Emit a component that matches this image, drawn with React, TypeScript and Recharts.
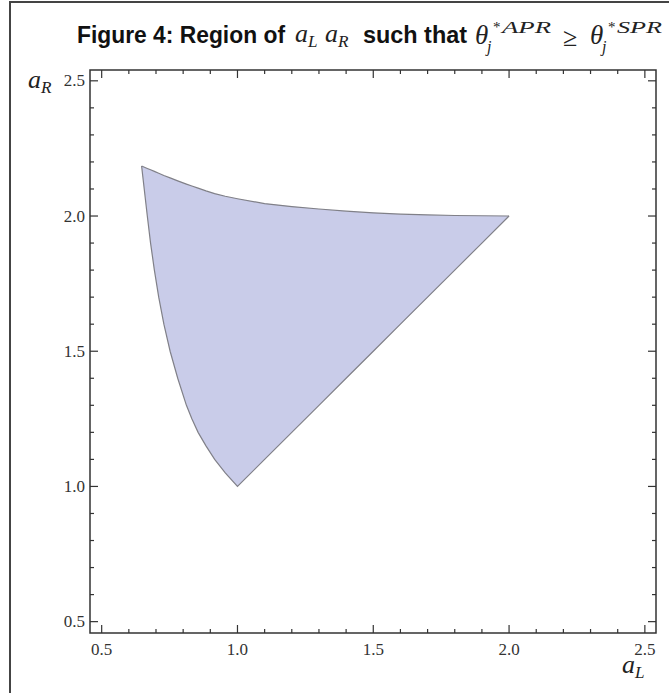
import React from 'react';
import { ComposedChart, Area, XAxis, YAxis, ReferenceArea } from 'recharts';

// region boundary, sampled along a_L
const aL = [0.647, 0.668, 0.68, 0.694, 0.71, 0.729, 0.752, 0.78, 0.812, 0.832, 0.855, 0.884, 0.916, 0.955, 1.0, 1.1, 1.2, 1.3, 1.4, 1.5, 1.6, 1.7, 1.8, 1.9, 2.0];
const aRUpper = [2.185, 2.176, 2.171, 2.165, 2.158, 2.15, 2.141, 2.13, 2.118, 2.111, 2.103, 2.093, 2.083, 2.073, 2.064, 2.046, 2.035, 2.026, 2.018, 2.012, 2.007, 2.004, 2.002, 2.001, 2.0];
const aRLower = [2.185, 2.0, 1.9, 1.8, 1.7, 1.6, 1.5, 1.4, 1.3, 1.25, 1.2, 1.15, 1.1, 1.05, 1.0, 1.1, 1.2, 1.3, 1.4, 1.5, 1.6, 1.7, 1.8, 1.9, 2.0];

const xTicks = [0.5, 0.6, 0.7, 0.8, 0.9, 1.0, 1.1, 1.2, 1.3, 1.4, 1.5, 1.6, 1.7, 1.8, 1.9, 2.0, 2.1, 2.2, 2.3, 2.4, 2.5];
const yTicks = [0.5, 0.6, 0.7, 0.8, 0.9, 1.0, 1.1, 1.2, 1.3, 1.4, 1.5, 1.6, 1.7, 1.8, 1.9, 2.0, 2.1, 2.2, 2.3, 2.4, 2.5];
const xDomain = [0.457, 2.541];
const yDomain = [0.458, 2.54];

const data = aL.map((x, i) => ({ x, range: [aRLower[i], aRUpper[i]] }));

const W = 669;
const H = 693;
const yAxisW = 40;
const xAxisH = 30;
// plot box: x 90..656, y 70..633
const margin = { top: 70, right: 13, bottom: 30, left: 50 };
const plotW = W - margin.left - margin.right - yAxisW;
const plotH = H - margin.top - margin.bottom - xAxisH;

const ink = '#333';
const serif = "'Liberation Serif', 'Times New Roman', serif";
const sans = "'Liberation Sans', Arial, sans-serif";

const isMajor = (v: number) => Math.abs(v * 2 - Math.round(v * 2)) < 1e-6;

function XTick(props: any) {
    const { x, y, payload } = props;
    const v = payload.value as number;
    const len = isMajor(v) ? 8 : 4;
    return (
        <g>
            <line x1={x} y1={y} x2={x} y2={y - len} stroke={ink} strokeWidth={1.2} />
            <line x1={x} y1={y - plotH} x2={x} y2={y - plotH + len} stroke={ink} strokeWidth={1.2} />
            {isMajor(v) && (
                <text x={x} y={y + 22} textAnchor="middle" fontFamily={serif} fontSize={17} fill={ink}>
                    {v.toFixed(1)}
                </text>
            )}
        </g>
    );
}

function YTick(props: any) {
    const { x, y, payload } = props;
    const v = payload.value as number;
    const len = isMajor(v) ? 8 : 4;
    return (
        <g>
            <line x1={x} y1={y} x2={x + len} y2={y} stroke={ink} strokeWidth={1.2} />
            <line x1={x + plotW} y1={y} x2={x + plotW - len} y2={y} stroke={ink} strokeWidth={1.2} />
            {isMajor(v) && (
                <text x={x - 5} y={y + 5.5} textAnchor="end" fontFamily={serif} fontSize={17} fill={ink}>
                    {v.toFixed(1)}
                </text>
            )}
        </g>
    );
}

function Var({ x, y, name, idx, size = 26 }: { x: number; y: number; name: string; idx: string; size?: number }) {
    return (
        <text x={x} y={y} fontFamily={serif} fontStyle="italic" fill="#222">
            <tspan fontSize={size}>{name}</tspan>
            <tspan fontSize={size * 0.66} dy={5}>{idx}</tspan>
        </text>
    );
}

function Theta({ x, sup, supW }: { x: number; sup: string; supW: number }) {
    return (
        <g fill="#222" fontFamily={serif} fontStyle="italic">
            <text x={x} y={44} fontSize={27}>θ</text>
            <text x={x + 12} y={52} fontSize={16}>j</text>
            <text x={x + 18} y={32} fontSize={15} fontStyle="normal">*</text>
            <text x={x + 27} y={33} fontSize={17} textLength={supW} lengthAdjust="spacingAndGlyphs">
                {sup}
            </text>
        </g>
    );
}

export default function App() {
    return (
        <div style={{ position: 'absolute', left: 0, top: 0, width: W, height: H, background: '#fff', overflow: 'hidden' }}>
            {/* frame of the figure */}
            <div style={{ position: 'absolute', left: 9, top: 1, width: W, height: H, borderLeft: '2px solid #444', borderTop: '2px solid #444' }} />

            <ComposedChart width={W} height={H} data={data} margin={margin} style={{ position: 'absolute', left: 0, top: 0 }}>
                <XAxis
                    dataKey="x"
                    type="number"
                    domain={xDomain}
                    allowDataOverflow
                    ticks={xTicks}
                    interval={0}
                    height={xAxisH}
                    tickSize={0}
                    tickMargin={0}
                    axisLine={false}
                    tickLine={false}
                    tick={(p: any) => <XTick {...p} />}
                />
                <YAxis
                    type="number"
                    domain={yDomain}
                    allowDataOverflow
                    ticks={yTicks}
                    interval={0}
                    width={yAxisW}
                    tickSize={0}
                    tickMargin={0}
                    axisLine={false}
                    tickLine={false}
                    tick={(p: any) => <YTick {...p} />}
                />
                <Area
                    dataKey="range"
                    type="linear"
                    fill="#c9cce9"
                    fillOpacity={1}
                    stroke="#808088"
                    strokeWidth={1.2}
                    dot={false}
                    activeDot={false}
                    isAnimationActive={false}
                />
                <ReferenceArea
                    x1={xDomain[0]}
                    x2={xDomain[1]}
                    y1={yDomain[0]}
                    y2={yDomain[1]}
                    fill="none"
                    fillOpacity={0}
                    stroke={ink}
                    strokeWidth={1.5}
                />
            </ComposedChart>

            {/* title and axis names */}
            <svg width={W} height={H} style={{ position: 'absolute', left: 0, top: 0, pointerEvents: 'none' }}>
                <text x={77} y={43} fontFamily={sans} fontWeight={700} fontSize={23} fill="#111" textLength={208} lengthAdjust="spacingAndGlyphs">
                    Figure 4: Region of
                </text>
                <Var x={295} y={42} name="a" idx="L" />
                <Var x={325} y={42} name="a" idx="R" />
                <text x={363} y={43} fontFamily={sans} fontWeight={700} fontSize={23} fill="#111" textLength={104} lengthAdjust="spacingAndGlyphs">
                    such that
                </text>
                <Theta x={475} sup="APR" supW={49} />
                <text x={563} y={46} fontFamily={serif} fontSize={26} fill="#222">≥</text>
                <Theta x={590} sup="SPR" supW={45} />

                <Var x={28} y={88} name="a" idx="R" />
                <Var x={622} y={673} name="a" idx="L" />
            </svg>
        </div>
    );
}
